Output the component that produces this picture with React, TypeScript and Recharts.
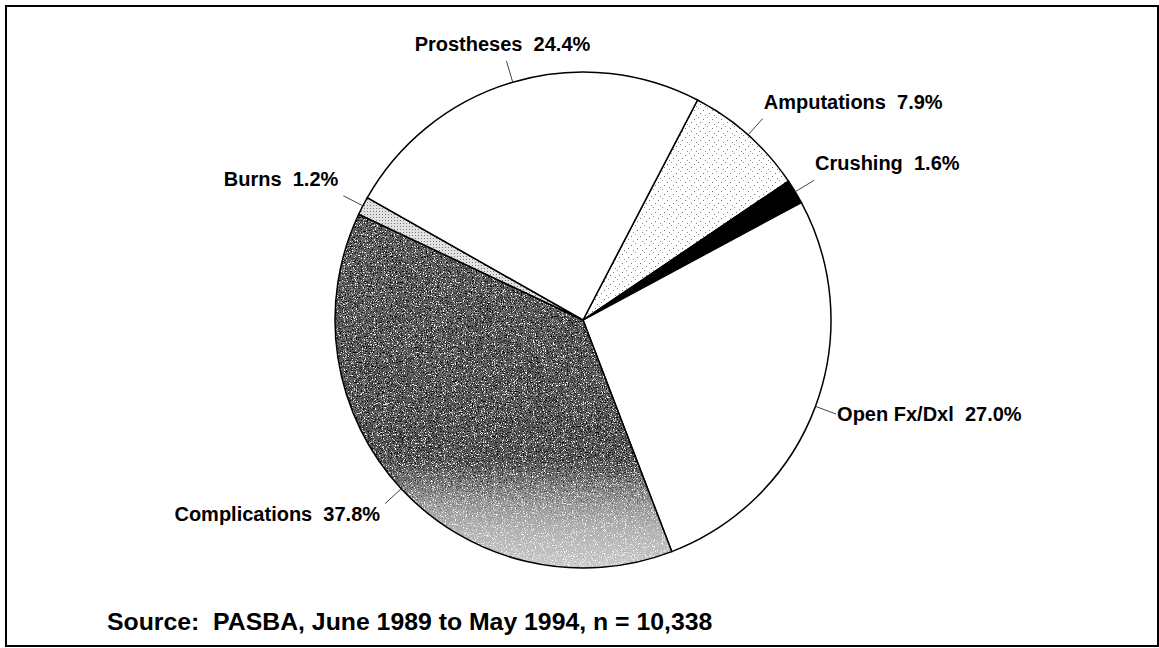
import { PieChart, Pie, Cell } from "recharts";

const categories = ["Amputations", "Crushing", "Open Fx/Dxl", "Complications", "Burns", "Prostheses"];
const shares = [7.9, 1.6, 27.0, 37.8, 1.2, 24.4];
const fills = ["url(#stipple)", "#000", "url(#sparse)", "url(#complic)", "url(#burns)", "#fff"];

const data = categories.map((name, i) => ({ name, value: shares[i] }));

const RAD = Math.PI / 180;

const renderLabel = (props: any) => {
  const { cx, cy, outerRadius, midAngle, index } = props;
  const sin = Math.cos(-midAngle * RAD);
  const cos = Math.sin(-midAngle * RAD);
  const sx = cx + outerRadius * sin;
  const sy = cy + outerRadius * cos;
  const ex = cx + (outerRadius + 22) * sin;
  const ey = cy + (outerRadius + 22) * cos;
  let anchor = sin > 0 ? "start" : "end";
  let tx = sin > 0 ? ex + 1 : ex - 5;
  if (Math.abs(sin) < 0.4) {
    anchor = "middle";
    tx = ex - 4;
  }
  let ty = ey;
  if (ey < cy - 60) ty = ey - 17;
  else if (ey > cy + 100) ty = ey + 10;
  const d = data[index];
  return (
    <g key={d.name}>
      <line x1={sx} y1={sy} x2={ex} y2={ey} stroke="#444" strokeWidth={1} />
      <text
        x={tx}
        y={ty}
        textAnchor={anchor}
        dominantBaseline="central"
        fontFamily="'Liberation Sans', Arial, sans-serif"
        fontWeight="bold"
        fontSize={20}
        fill="#000"
      >
        {`${d.name}\u00a0\u00a0${d.value.toFixed(1)}%`}
      </text>
    </g>
  );
};

export default function App() {
  return (
    <div style={{ position: "absolute", left: 0, top: 0, width: 1159, height: 648, background: "#fff" }}>
      <svg width={0} height={0} style={{ position: "absolute" }}>
        <defs>
          <filter id="whiteSpecks" x="0" y="0" width="1" height="1">
            <feTurbulence type="fractalNoise" baseFrequency="0.9" numOctaves={2} seed={4} />
            <feColorMatrix type="matrix" values="0 0 0 0 1  0 0 0 0 1  0 0 0 0 1  6 0 0 0 -3.3" />
          </filter>
          <filter id="blackSpecks" x="0" y="0" width="1" height="1">
            <feTurbulence type="fractalNoise" baseFrequency="0.8" numOctaves={2} seed={11} />
            <feColorMatrix type="matrix" values="0 0 0 0 0  0 0 0 0 0  0 0 0 0 0  6 0 0 0 -3.3" />
          </filter>
          <filter id="graySpecks" x="0" y="0" width="1" height="1">
            <feTurbulence type="fractalNoise" baseFrequency="0.8" numOctaves={2} seed={7} />
            <feColorMatrix type="matrix" values="0 0 0 0 0.45  0 0 0 0 0.45  0 0 0 0 0.45  6 0 0 0 -3.2" />
          </filter>
          <linearGradient id="fadeDown" gradientUnits="userSpaceOnUse" x1={0} y1={455} x2={0} y2={530}>
            <stop offset="0" stopColor="#fff" />
            <stop offset="1" stopColor="#000" />
          </linearGradient>
          <linearGradient id="fadeUp" gradientUnits="userSpaceOnUse" x1={0} y1={455} x2={0} y2={530}>
            <stop offset="0" stopColor="#000" />
            <stop offset="1" stopColor="#fff" />
          </linearGradient>
          <mask id="topMask" maskUnits="userSpaceOnUse" x={0} y={0} width={1159} height={648}>
            <rect width={1159} height={648} fill="url(#fadeDown)" />
          </mask>
          <mask id="bottomMask" maskUnits="userSpaceOnUse" x={0} y={0} width={1159} height={648}>
            <rect width={1159} height={648} fill="url(#fadeUp)" />
          </mask>
          <pattern id="stipple" width={9} height={9} patternUnits="userSpaceOnUse">
            <rect width={9} height={9} fill="#fff" />
            <rect x={1} y={2} width={1} height={1} fill="#777" />
            <rect x={5} y={0} width={1} height={1} fill="#999" />
            <rect x={7} y={5} width={1} height={1} fill="#777" />
            <rect x={3} y={7} width={1} height={1} fill="#888" />
          </pattern>
          <pattern id="sparse" width={23} height={19} patternUnits="userSpaceOnUse">
            <rect width={23} height={19} fill="#fff" />
          </pattern>
          <pattern id="burns" width={3} height={3} patternUnits="userSpaceOnUse">
            <rect width={3} height={3} fill="#e2e2e2" />
            <rect x={1} y={1} width={1} height={1} fill="#777" />
          </pattern>
          <linearGradient id="complicGrad" gradientUnits="userSpaceOnUse" x1={0} y1={214} x2={0} y2={568}>
            <stop offset="0" stopColor="#5e5e5e" />
            <stop offset="0.7" stopColor="#555" />
            <stop offset="0.82" stopColor="#999" />
            <stop offset="1" stopColor="#cfcfcf" />
          </linearGradient>
          <pattern id="complic" width={1159} height={648} patternUnits="userSpaceOnUse">
            <rect width={1159} height={648} fill="url(#complicGrad)" />
            <rect x={300} y={180} width={420} height={420} fill="#fff" filter="url(#whiteSpecks)" />
            <g mask="url(#topMask)">
              <rect x={300} y={180} width={420} height={420} fill="#000" filter="url(#blackSpecks)" />
            </g>
            <g mask="url(#bottomMask)">
              <rect x={300} y={180} width={420} height={420} fill="#777" filter="url(#graySpecks)" />
            </g>
          </pattern>
        </defs>
      </svg>
      <div
        style={{
          position: "absolute",
          left: 5,
          top: 5,
          width: 1150,
          height: 638,
          border: "2px solid #000",
        }}
      />
      <div style={{ position: "absolute", left: 0, top: 0 }}>
        <PieChart width={1159} height={648} margin={{ top: 0, right: 0, bottom: 0, left: 0 }}>
          <Pie
            data={data}
            dataKey="value"
            nameKey="name"
            cx={583}
            cy={320}
            outerRadius={248}
            startAngle={62.5}
            endAngle={-297.5}
            stroke="#000"
            strokeWidth={1.5}
            label={renderLabel}
            labelLine={false}
            isAnimationActive={false}
          >
            {data.map((d, i) => (
              <Cell key={d.name} fill={fills[i]} />
            ))}
          </Pie>
        </PieChart>
      </div>
      <div
        style={{
          position: "absolute",
          left: 107,
          top: 607,
          fontFamily: "'Liberation Sans', Arial, sans-serif",
          fontWeight: "bold",
          fontSize: 24.8,
          lineHeight: "30px",
          whiteSpace: "pre",
          color: "#000",
        }}
      >
        {"Source:  PASBA, June 1989 to May 1994, n = 10,338"}
      </div>
    </div>
  );
}
